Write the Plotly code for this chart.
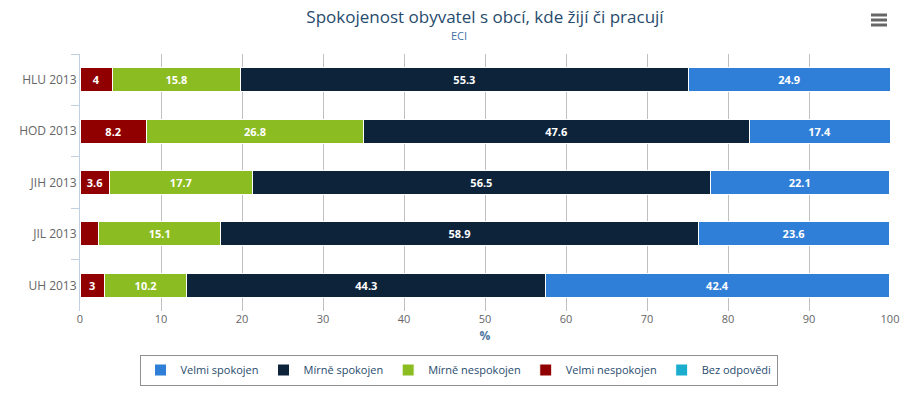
import plotly.graph_objects as go

categories = ["HLU 2013", "HOD 2013", "JIH 2013", "JIL 2013", "UH 2013"]
velmi_nespokojen = [4, 8.2, 3.6, 2.3, 3]
mirne_nespokojen = [15.8, 26.8, 17.7, 15.1, 10.2]
mirne_spokojen = [55.3, 47.6, 56.5, 58.9, 44.3]
velmi_spokojen = [24.9, 17.4, 22.1, 23.6, 42.4]
bez_odpovedi = [0, 0, 0, 0, 0]
x_ticks = [0, 10, 20, 30, 40, 50, 60, 70, 80, 90, 100]

FONT = "Open Sans, DejaVu Sans, sans-serif"

series = [
    ("Velmi nespokojen", velmi_nespokojen, "#910000", 4),
    ("Mírně nespokojen", mirne_nespokojen, "#8bbc21", 3),
    ("Mírně spokojen", mirne_spokojen, "#0d233a", 2),
    ("Velmi spokojen", velmi_spokojen, "#2f7ed8", 1),
    ("Bez odpovědi", bez_odpovedi, "#1aadce", 5),
]

fig = go.Figure()
for name, vals, color, rank in series:
    labels = [("%g" % v) if v >= 2.5 else "" for v in vals]
    fig.add_trace(go.Bar(
        y=categories, x=vals, name=name, orientation="h",
        marker=dict(color=color, line=dict(color="white", width=1)),
        text=labels, textposition="inside", insidetextanchor="middle",
        textangle=0,
        textfont=dict(color="white", size=11, family=FONT, weight="bold"),
        legendrank=rank, width=0.467, hoverinfo="skip",
    ))

fig.update_layout(
    barmode="stack",
    width=917, height=398,
    margin=dict(l=80, r=27, t=54, b=87),
    paper_bgcolor="white", plot_bgcolor="white",
    font=dict(family=FONT, color="#666666", size=11),
    showlegend=True,
    title=dict(
        text="Spokojenost obyvatel s obcí, kde žijí či pracují",
        x=0.5, xref="paper", xanchor="center",
        y=1 - 17 / 398, yref="container", yanchor="middle",
        font=dict(family=FONT, size=17, color="#274b6d"),
    ),
    legend=dict(
        orientation="h", x=(458.5 - 80) / 810, xanchor="center",
        y=(311 - 370) / 257, yanchor="middle",
        bordercolor="#909090", borderwidth=1,
        font=dict(family=FONT, size=11, color="#274b6d"),
        itemclick=False, itemdoubleclick=False,
        traceorder="normal", itemwidth=30, tracegroupgap=0,
    ),
    xaxis=dict(
        range=[0, 100], tickvals=x_ticks, showgrid=True,
        gridcolor="#c0c0c0", gridwidth=1, zeroline=False, showline=False,
        ticks="", tickfont=dict(size=11, color="#666666"),
        title=dict(text="<b>%</b>", font=dict(size=12, color="#4d759e"), standoff=6),
        fixedrange=True, automargin=False,
    ),
    yaxis=dict(
        categoryorder="array", categoryarray=categories, autorange="reversed",
        showline=True, linecolor="#c0d0e0", linewidth=1,
        ticks="outside", ticklen=8, tickcolor="#c0d0e0", tickson="boundaries",
        tickfont=dict(size=12, color="#666666"),
        showgrid=False, zeroline=False, fixedrange=True, automargin=False,
    ),
    annotations=[dict(
        text="ECI", xref="paper", yref="paper",
        x=(458.5 - 80) / 810, y=(311 - 35) / 257,
        xanchor="center", yanchor="middle", showarrow=False,
        font=dict(family=FONT, size=11, color="#4572a7"),
    )],
)

# export menu icon (hamburger)
for py in (15, 20, 25):
    fig.add_shape(type="line", xref="paper", yref="paper",
                  x0=(871 - 80) / 810, x1=(887 - 80) / 810,
                  y0=(311 - py) / 257, y1=(311 - py) / 257,
                  line=dict(color="#666666", width=3))

fig.write_html("out.html", config={"displayModeBar": False},
               post_script="document.body.style.margin='0';")
